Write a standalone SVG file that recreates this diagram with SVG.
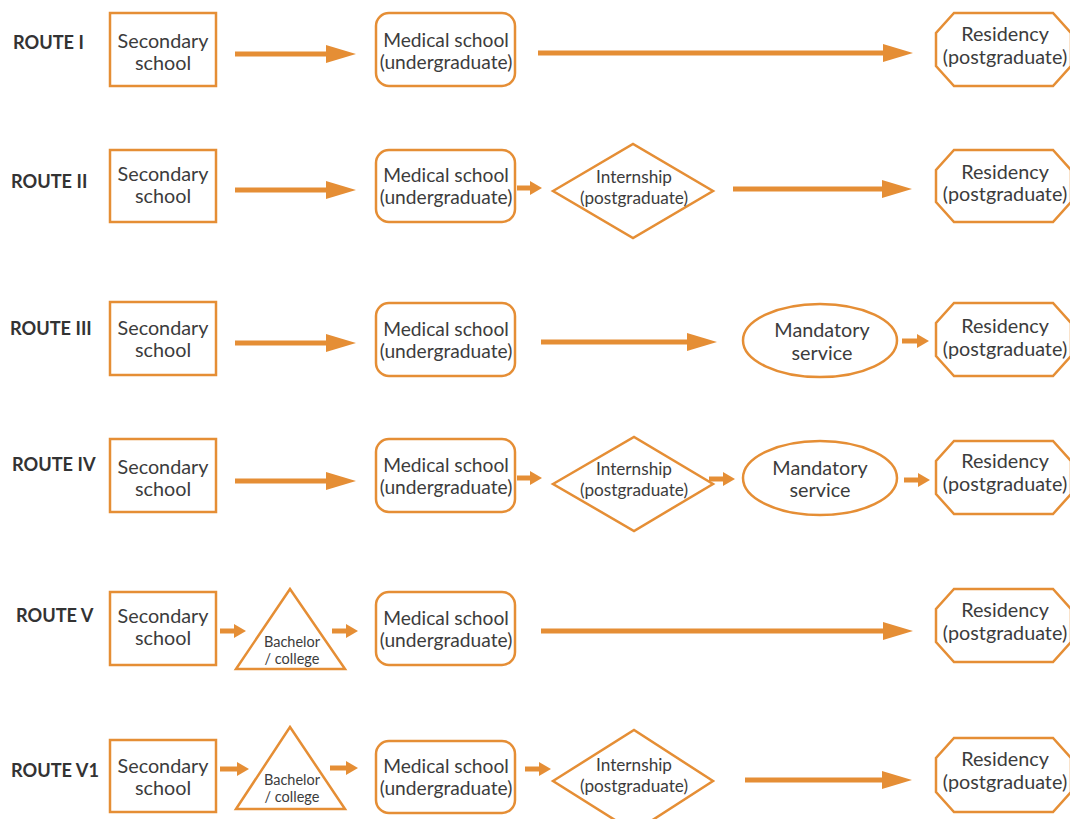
<svg xmlns="http://www.w3.org/2000/svg" width="1070" height="819" viewBox="0 0 1070 819">
<defs>
<style>
.shape{fill:#fff;stroke:#E58E35;stroke-width:2.5}
.t{font-family:Lato,"Liberation Sans",sans-serif;fill:#3c3c3c;text-anchor:middle;dominant-baseline:central}
.sec{font-size:19.8px}
.med{font-size:19.2px}
.res{font-size:19.8px}
.int{font-size:17.2px}
.man{font-size:19.8px}
.bac{font-size:14.5px}
.lbl{font-family:Lato,"Liberation Sans",sans-serif;font-weight:bold;font-size:18.2px;fill:#333;dominant-baseline:central}
.arr{stroke:#E58E35;stroke-width:5;fill:none}
</style>
<marker id="big" viewBox="0 0 30 18" markerWidth="30" markerHeight="18" refX="0" refY="9" markerUnits="userSpaceOnUse" orient="auto"><path d="M0,0 L30,9 L0,18 z" fill="#E58E35"/></marker>
<marker id="small" viewBox="0 0 12 14" markerWidth="12" markerHeight="14" refX="0" refY="7" markerUnits="userSpaceOnUse" orient="auto"><path d="M0,0 L12,7 L0,14 z" fill="#E58E35"/></marker>
</defs>

<g id="labels">
<text class="lbl" x="13" y="42">ROUTE I</text>
<text class="lbl" x="11" y="181">ROUTE II</text>
<text class="lbl" x="10" y="328">ROUTE III</text>
<text class="lbl" x="12" y="464">ROUTE IV</text>
<text class="lbl" x="16" y="615">ROUTE V</text>
<text class="lbl" x="11" y="770">ROUTE V1</text>
</g>

<g id="connectors">
<line class="arr" x1="235" y1="54" x2="326" y2="54" marker-end="url(#big)"/>
<line class="arr" x1="538" y1="53" x2="883" y2="53" marker-end="url(#big)"/>

<line class="arr" x1="235" y1="190" x2="326" y2="190" marker-end="url(#big)"/>
<line class="arr" x1="517" y1="188" x2="530" y2="188" marker-end="url(#small)"/>
<line class="arr" x1="733" y1="189" x2="882" y2="189" marker-end="url(#big)"/>

<line class="arr" x1="235" y1="343" x2="326" y2="343" marker-end="url(#big)"/>
<line class="arr" x1="541" y1="342" x2="687" y2="342" marker-end="url(#big)"/>
<line class="arr" x1="902" y1="341" x2="917" y2="341" marker-end="url(#small)"/>

<line class="arr" x1="235" y1="481" x2="326" y2="481" marker-end="url(#big)"/>
<line class="arr" x1="517" y1="478" x2="530" y2="478" marker-end="url(#small)"/>
<line class="arr" x1="709" y1="479" x2="723" y2="479" marker-end="url(#small)"/>
<line class="arr" x1="904" y1="480" x2="918" y2="480" marker-end="url(#small)"/>

<line class="arr" x1="220" y1="631" x2="234" y2="631" marker-end="url(#small)"/>
<line class="arr" x1="332" y1="631" x2="346" y2="631" marker-end="url(#small)"/>
<line class="arr" x1="541" y1="631" x2="883" y2="631" marker-end="url(#big)"/>

<line class="arr" x1="220" y1="769" x2="237" y2="769" marker-end="url(#small)"/>
<line class="arr" x1="330" y1="768" x2="346" y2="768" marker-end="url(#small)"/>
<line class="arr" x1="525" y1="769" x2="539" y2="769" marker-end="url(#small)"/>
<line class="arr" x1="745" y1="780" x2="882" y2="780" marker-end="url(#big)"/>
</g>

<!-- Route I -->
<g id="r1-secondary"><rect class="shape" x="110" y="13" width="106" height="73"/><text class="t sec" x="163" y="40">Secondary</text><text class="t sec" x="163" y="62">school</text></g>
<g id="r1-medical"><rect class="shape" x="376" y="13" width="139" height="73" rx="13"/><text class="t med" x="446" y="39">Medical school</text><text class="t med" x="446" y="61">(undergraduate)</text></g>
<g id="r1-residency"><polygon class="shape" points="954,13 1053,13 1071,33 1071,66 1053,86 954,86 936,66 936,33"/><text class="t res" x="1005" y="33">Residency</text><text class="t res" x="1005" y="56">(postgraduate)</text></g>

<!-- Route II -->
<g id="r2-secondary"><rect class="shape" x="110" y="150" width="106" height="72"/><text class="t sec" x="163" y="173">Secondary</text><text class="t sec" x="163" y="195">school</text></g>
<g id="r2-medical"><rect class="shape" x="376" y="150" width="139" height="72" rx="13"/><text class="t med" x="446" y="174">Medical school</text><text class="t med" x="446" y="196">(undergraduate)</text></g>
<g id="r2-internship"><polygon class="shape" points="553,191 633,144 713,191 633,238"/><text class="t int" x="634" y="176">Internship</text><text class="t int" x="634" y="197">(postgraduate)</text></g>
<g id="r2-residency"><polygon class="shape" points="954,150 1053,150 1071,170 1071,202 1053,222 954,222 936,202 936,170"/><text class="t res" x="1005" y="171">Residency</text><text class="t res" x="1005" y="193">(postgraduate)</text></g>

<!-- Route III -->
<g id="r3-secondary"><rect class="shape" x="110" y="302" width="106" height="73"/><text class="t sec" x="163" y="327">Secondary</text><text class="t sec" x="163" y="349">school</text></g>
<g id="r3-medical"><rect class="shape" x="376" y="303" width="139" height="73" rx="13"/><text class="t med" x="446" y="328">Medical school</text><text class="t med" x="446" y="350">(undergraduate)</text></g>
<g id="r3-mandatory"><ellipse class="shape" cx="820" cy="340.5" rx="77" ry="36.5"/><text class="t man" x="822" y="329">Mandatory</text><text class="t man" x="822" y="352">service</text></g>
<g id="r3-residency"><polygon class="shape" points="954,303 1053,303 1071,323 1071,356 1053,376 954,376 936,356 936,323"/><text class="t res" x="1005" y="325">Residency</text><text class="t res" x="1005" y="348">(postgraduate)</text></g>

<!-- Route IV -->
<g id="r4-secondary"><rect class="shape" x="110" y="439" width="106" height="73"/><text class="t sec" x="163" y="466">Secondary</text><text class="t sec" x="163" y="488">school</text></g>
<g id="r4-medical"><rect class="shape" x="376" y="439" width="139" height="73" rx="13"/><text class="t med" x="446" y="464">Medical school</text><text class="t med" x="446" y="486">(undergraduate)</text></g>
<g id="r4-internship"><polygon class="shape" points="553,484 634,437 713,484 634,531"/><text class="t int" x="634" y="468">Internship</text><text class="t int" x="634" y="489">(postgraduate)</text></g>
<g id="r4-mandatory"><ellipse class="shape" cx="820" cy="478" rx="77" ry="37"/><text class="t man" x="820" y="467">Mandatory</text><text class="t man" x="820" y="489">service</text></g>
<g id="r4-residency"><polygon class="shape" points="954,441 1053,441 1071,461 1071,494 1053,514 954,514 936,494 936,461"/><text class="t res" x="1005" y="460">Residency</text><text class="t res" x="1005" y="483">(postgraduate)</text></g>

<!-- Route V -->
<g id="r5-secondary"><rect class="shape" x="110" y="592" width="106" height="73"/><text class="t sec" x="163" y="615">Secondary</text><text class="t sec" x="163" y="637">school</text></g>
<g id="r5-bachelor"><polygon class="shape" points="290,589 345,669 236,669"/><text class="t bac" x="292" y="641">Bachelor</text><text class="t bac" x="292" y="658">/ college</text></g>
<g id="r5-medical"><rect class="shape" x="376" y="592" width="139" height="73" rx="13"/><text class="t med" x="446" y="617">Medical school</text><text class="t med" x="446" y="639">(undergraduate)</text></g>
<g id="r5-residency"><polygon class="shape" points="954,589 1053,589 1071,609 1071,642 1053,662 954,662 936,642 936,609"/><text class="t res" x="1005" y="609">Residency</text><text class="t res" x="1005" y="632">(postgraduate)</text></g>

<!-- Route V1 -->
<g id="r6-secondary"><rect class="shape" x="110" y="740" width="106" height="72"/><text class="t sec" x="163" y="765">Secondary</text><text class="t sec" x="163" y="787">school</text></g>
<g id="r6-bachelor"><polygon class="shape" points="290,727 345,809 236,809"/><text class="t bac" x="292" y="779">Bachelor</text><text class="t bac" x="292" y="796">/ college</text></g>
<g id="r6-medical"><rect class="shape" x="376" y="741" width="139" height="72" rx="13"/><text class="t med" x="446" y="765">Medical school</text><text class="t med" x="446" y="787">(undergraduate)</text></g>
<g id="r6-internship"><polygon class="shape" points="553,781 634,730 713,781 634,832"/><text class="t int" x="634" y="764">Internship</text><text class="t int" x="634" y="785">(postgraduate)</text></g>
<g id="r6-residency"><polygon class="shape" points="954,738 1053,738 1071,758 1071,792 1053,812 954,812 936,792 936,758"/><text class="t res" x="1005" y="758">Residency</text><text class="t res" x="1005" y="781">(postgraduate)</text></g>
</svg>
